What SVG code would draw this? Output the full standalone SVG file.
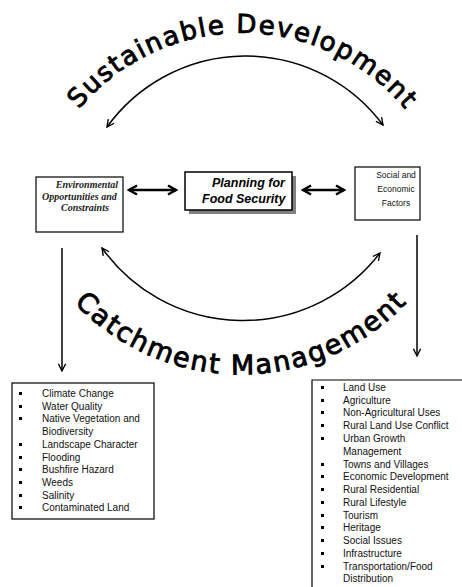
<svg xmlns="http://www.w3.org/2000/svg" width="462" height="587" viewBox="0 0 462 587">
<style>
.box{fill:#fff;stroke:#000;stroke-width:1.2}
.arc{fill:none;stroke:#000;stroke-width:1.5}
.thick{fill:none;stroke:#000;stroke-width:2.5}
.title{font-family:"DejaVu Sans",Verdana,sans-serif;font-size:26px;fill:#000;stroke:#000;stroke-width:0.9}
.env{font-family:"Liberation Serif",serif;font-style:italic;font-weight:bold;font-size:10px;fill:#222}
.plan{font-family:"Liberation Sans",Arial,sans-serif;font-style:italic;font-weight:bold;font-size:12.5px;fill:#000}
.soc{font-family:"Liberation Sans",Arial,sans-serif;font-size:8.5px;fill:#111}
.li{font-family:"Liberation Sans",Arial,sans-serif;font-size:10px;fill:#111}
.bul{fill:#000}
</style>
<defs>
<marker id="v" markerUnits="userSpaceOnUse" viewBox="0 0 10 10" refX="9" refY="5" markerWidth="9" markerHeight="9" orient="auto-start-reverse">
<path d="M1,1 L9,5 L1,9" fill="none" stroke="#000" stroke-width="1.5"/>
</marker>
<marker id="vb" markerUnits="userSpaceOnUse" viewBox="0 0 12 12" refX="10" refY="6" markerWidth="12" markerHeight="12" orient="auto-start-reverse">
<path d="M2,1.5 L10,6 L2,10.5" fill="none" stroke="#000" stroke-width="2.5"/>
</marker>
<path id="topArc" d="M29.5,245.5 A212.5,212.5 0 0 1 454.5,245.5"/>
<path id="botArc" d="M11.9,146 A228.5,228.5 0 0 0 468.9,146"/>
</defs>

<g id="title-sustainable">
<text class="title"><textPath href="#topArc" startOffset="50%" text-anchor="middle" textLength="372" lengthAdjust="spacing">Sustainable Development</textPath></text>
</g>
<g id="title-catchment">
<text class="title" style="font-size:27px"><textPath href="#botArc" startOffset="50%" text-anchor="middle" textLength="372" lengthAdjust="spacing">Catchment Management</textPath></text>
</g>

<g id="connectors">
<path class="arc" d="M107,127 A171,171 0 0 1 383,125" marker-start="url(#v)" marker-end="url(#v)"/>
<path class="arc" d="M102,248 A173,173 0 0 0 380,253" marker-start="url(#v)" marker-end="url(#v)"/>
<line class="thick" x1="129" y1="190" x2="176" y2="190" marker-start="url(#vb)" marker-end="url(#vb)"/>
<line class="thick" x1="303" y1="190" x2="344" y2="190" marker-start="url(#vb)" marker-end="url(#vb)"/>
<line class="arc" x1="62" y1="248" x2="62" y2="371" marker-end="url(#v)"/>
<line class="arc" x1="417" y1="235" x2="417" y2="356" marker-end="url(#v)"/>
</g>

<g id="env">
<rect class="box" x="36" y="177" width="87" height="55"/>
<text class="env" x="118" y="188" text-anchor="end">Environmental</text>
<text class="env" x="42" y="200">Opportunities and</text>
<text class="env" x="61" y="211">Constraints</text>
</g>

<g id="plan">
<rect x="189" y="176" width="107" height="38" fill="#808080"/>
<rect class="box" x="185" y="172" width="107" height="38" style="stroke-width:1.5"/>
<text class="plan" x="212" y="187">Planning for</text>
<text class="plan" x="202" y="203">Food Security</text>
</g>

<g id="social">
<rect class="box" x="355" y="167" width="65" height="53"/>
<text class="soc" x="396" y="178" text-anchor="middle">Social and</text>
<text class="soc" x="396" y="192" text-anchor="middle">Economic</text>
<text class="soc" x="396" y="206" text-anchor="middle">Factors</text>
</g>

<g id="env-list">
<rect class="box" x="12" y="383" width="142" height="136"/>
<g class="bul">
<rect x="19" y="392" width="3" height="3"/>
<rect x="19" y="405" width="3" height="3"/>
<rect x="19" y="417" width="3" height="3"/>
<rect x="19" y="443" width="3" height="3"/>
<rect x="19" y="456" width="3" height="3"/>
<rect x="19" y="468" width="3" height="3"/>
<rect x="19" y="481" width="3" height="3"/>
<rect x="19" y="494" width="3" height="3"/>
<rect x="19" y="506" width="3" height="3"/>
</g>
<text class="li" x="42" y="397">Climate Change</text>
<text class="li" x="42" y="410">Water Quality</text>
<text class="li" x="42" y="422">Native Vegetation and</text>
<text class="li" x="42" y="435">Biodiversity</text>
<text class="li" x="42" y="448">Landscape Character</text>
<text class="li" x="42" y="461">Flooding</text>
<text class="li" x="42" y="473">Bushfire Hazard</text>
<text class="li" x="42" y="486">Weeds</text>
<text class="li" x="42" y="499">Salinity</text>
<text class="li" x="42" y="511">Contaminated Land</text>
</g>

<g id="social-list">
<path class="box" d="M312,592 L312,380 L470,380" fill="none"/>
<g class="bul">
<rect x="321" y="386" width="3" height="3"/>
<rect x="321" y="399" width="3" height="3"/>
<rect x="321" y="411" width="3" height="3"/>
<rect x="321" y="424" width="3" height="3"/>
<rect x="321" y="437" width="3" height="3"/>
<rect x="321" y="463" width="3" height="3"/>
<rect x="321" y="475" width="3" height="3"/>
<rect x="321" y="488" width="3" height="3"/>
<rect x="321" y="501" width="3" height="3"/>
<rect x="321" y="514" width="3" height="3"/>
<rect x="321" y="526" width="3" height="3"/>
<rect x="321" y="539" width="3" height="3"/>
<rect x="321" y="552" width="3" height="3"/>
<rect x="321" y="565" width="3" height="3"/>
</g>
<text class="li" x="343" y="391">Land Use</text>
<text class="li" x="343" y="404">Agriculture</text>
<text class="li" x="343" y="416">Non-Agricultural Uses</text>
<text class="li" x="343" y="429">Rural Land Use Conflict</text>
<text class="li" x="343" y="442">Urban Growth</text>
<text class="li" x="343" y="455">Management</text>
<text class="li" x="343" y="468">Towns and Villages</text>
<text class="li" x="343" y="480">Economic Development</text>
<text class="li" x="343" y="493">Rural Residential</text>
<text class="li" x="343" y="506">Rural Lifestyle</text>
<text class="li" x="343" y="519">Tourism</text>
<text class="li" x="343" y="531">Heritage</text>
<text class="li" x="343" y="544">Social Issues</text>
<text class="li" x="343" y="557">Infrastructure</text>
<text class="li" x="343" y="570">Transportation/Food</text>
<text class="li" x="343" y="582">Distribution</text>
</g>
</svg>
